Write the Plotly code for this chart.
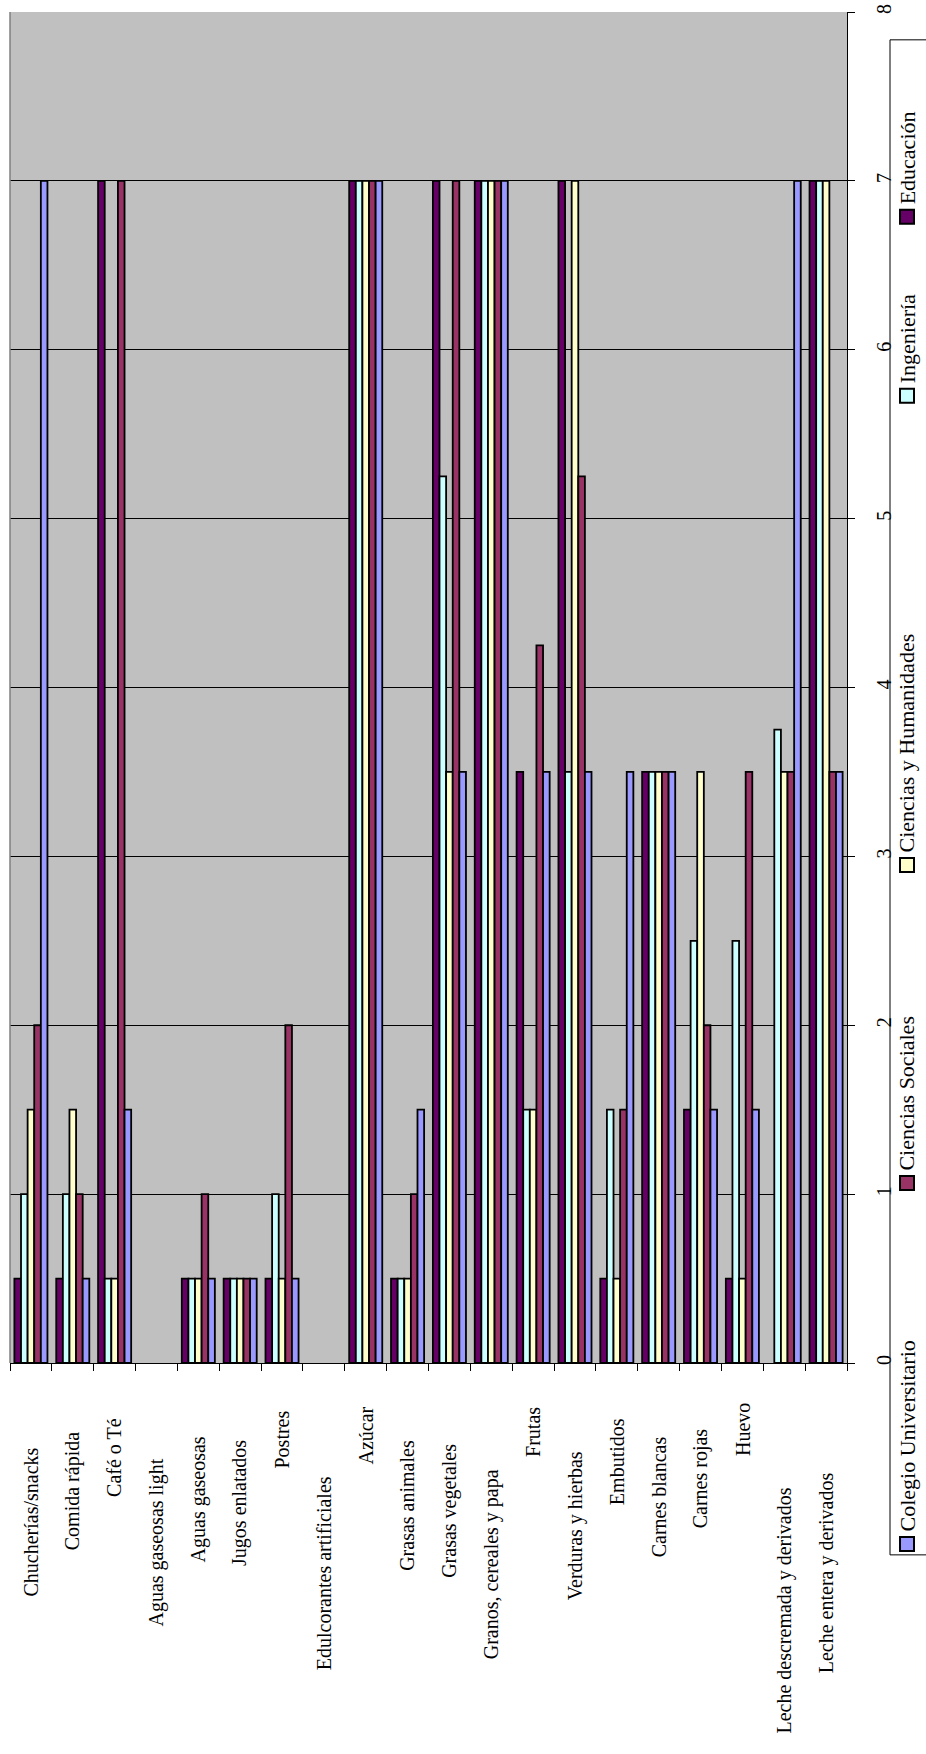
import plotly.graph_objects as go

categories = [
    "Chucherías/snacks", "Comida rápida", "Café o Té", "Aguas gaseosas light",
    "Aguas gaseosas", "Jugos enlatados", "Postres", "Edulcorantes artificiales",
    "Azúcar", "Grasas animales", "Grasas vegetales", "Granos, cereales y papa",
    "Frutas", "Verduras y hierbas", "Embutidos", "Carnes blancas",
    "Carnes rojas", "Huevo", "Leche descremada y derivados", "Leche entera y derivados",
]

educacion = [0.5, 0.5, 7, 0, 0.5, 0.5, 0.5, 0, 7, 0.5, 7, 7, 3.5, 7, 0.5, 3.5, 1.5, 0.5, 0, 7]
ingenieria = [1, 1, 0.5, 0, 0.5, 0.5, 1, 0, 7, 0.5, 5.25, 7, 1.5, 3.5, 1.5, 3.5, 2.5, 2.5, 3.75, 7]
ciencias_humanidades = [1.5, 1.5, 0.5, 0, 0.5, 0.5, 0.5, 0, 7, 0.5, 3.5, 7, 1.5, 7, 0.5, 3.5, 3.5, 0.5, 3.5, 7]
ciencias_sociales = [2, 1, 7, 0, 1, 0.5, 2, 0, 7, 1, 7, 7, 4.25, 5.25, 1.5, 3.5, 2, 3.5, 3.5, 3.5]
colegio_universitario = [7, 0.5, 1.5, 0, 0.5, 0.5, 0.5, 0, 7, 1.5, 3.5, 7, 3.5, 3.5, 3.5, 3.5, 1.5, 1.5, 7, 3.5]

series_names = ["Educación", "Ingeniería", "Ciencias y Humanidades", "Ciencias Sociales", "Colegio Universitario"]
series_values = [educacion, ingenieria, ciencias_humanidades, ciencias_sociales, colegio_universitario]
series_colors = ["#660066", "#CCFFFF", "#FFFFCC", "#993366", "#9999FF"]

y_ticks = [0, 1, 2, 3, 4, 5, 6, 7, 8]

# ---- layout geometry (pixels) ----
W, H = 926, 1754
PL, PR, PT, PB = 10, 847, 4, 1363  # plot area
FONT = "Liberation Serif, Times New Roman, serif"


def px_x(X):
    return (X - PL) / (PR - PL)


def px_y(Y):
    return (PB - Y) / (PB - PT)


fig = go.Figure()
for name, vals, col in zip(series_names, series_values, series_colors):
    fig.add_trace(go.Bar(
        x=categories, y=vals, name=name,
        marker=dict(color=col,
                    line=dict(color="black", width=[0 if v == 0 else 1.8 for v in vals])),
        showlegend=False,
    ))

fig.update_layout(
    width=W, height=H,
    margin=dict(l=PL, r=W - PR, t=PT, b=H - PB, pad=0),
    paper_bgcolor="white", plot_bgcolor="#C0C0C0",
    barmode="group", bargap=0.21, bargroupgap=0,
    font=dict(family=FONT, color="black", size=20),
)
fig.update_xaxes(
    type="category", categoryorder="array", categoryarray=categories,
    showticklabels=False, ticks="outside", ticklen=7, tickcolor="black",
    tickson="boundaries", showline=True, linecolor="black", linewidth=1,
    showgrid=False, zeroline=False,
)
fig.update_yaxes(
    range=[0, 8], tickvals=y_ticks, side="right", tickangle=-90,
    ticks="outside", ticklen=7, tickcolor="black",
    showline=True, linecolor="black", linewidth=1,
    showgrid=True, gridcolor="black", gridwidth=1, zeroline=False,
    tickfont=dict(size=20, family=FONT), ticklabelstandoff=12,
    ticklabeloverflow="allow",
)

# left border of plot area
fig.add_shape(type="line", xref="paper", yref="paper", x0=0, x1=0, y0=0, y1=1,
              line=dict(color="#808080", width=1.5))

# category labels (rotated, Excel-like placement)
CAT_FS = 20
for c in categories:
    est_len = len(c) * 0.46 * CAT_FS
    top = 1383 + 0.4 * est_len
    fig.add_annotation(
        x=c, xref="x", y=px_y(top), yref="paper", text=c, textangle=-90,
        showarrow=False, xanchor="center", yanchor="top",
        font=dict(size=CAT_FS, family=FONT, color="black"),
    )

# legend box with rotated entries
fig.add_shape(type="rect", xref="paper", yref="paper",
              x0=px_x(890), x1=px_x(935), y0=px_y(1556), y1=px_y(32),
              line=dict(color="black", width=1), fillcolor="white", layer="below")
legend_swatch_y = [210, 390, 862, 1182, 1545]  # pixel centre of each swatch
LEG_FS = 22
for name, col, sy in zip(series_names, series_colors, legend_swatch_y):
    fig.add_shape(type="rect", xref="paper", yref="paper",
                  x0=px_x(900), x1=px_x(914), y0=px_y(sy + 7), y1=px_y(sy - 7),
                  line=dict(color="black", width=2), fillcolor=col)
    fig.add_annotation(
        x=px_x(907), xref="paper", y=px_y(sy - 10), yref="paper", text=name,
        textangle=-90, showarrow=False, xanchor="center", yanchor="bottom",
        font=dict(size=LEG_FS, family=FONT, color="black"),
    )

fig.write_html(
    "out.html",
    config={"displayModeBar": False},
    post_script="document.body.style.margin='0';document.body.style.overflow='hidden';",
)
